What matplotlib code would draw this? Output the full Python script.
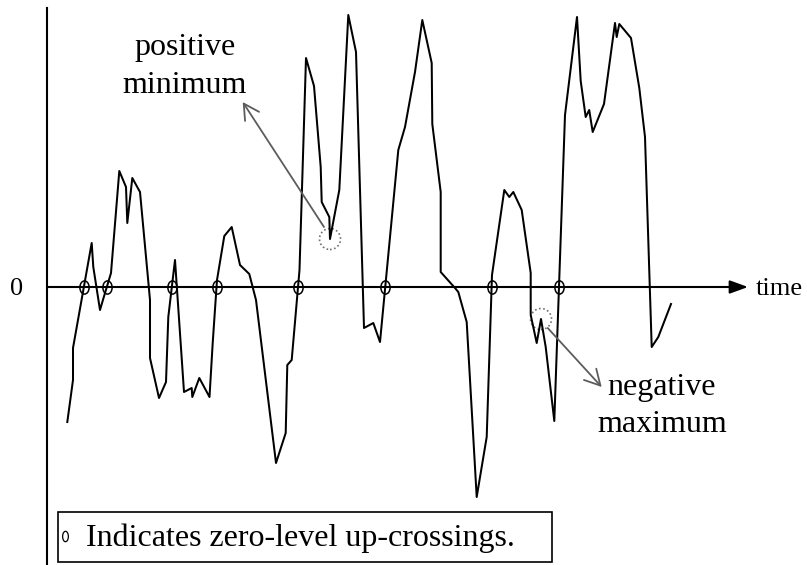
import numpy as np
import matplotlib
matplotlib.use("Agg")
import matplotlib.pyplot as plt
from matplotlib.markers import MarkerStyle
from matplotlib.patches import Ellipse, Rectangle
from matplotlib.transforms import Affine2D

# Sampled record: time and signal level (zero level = 0)
time = [2.03, 2.6, 2.6, 4.47, 4.63, 5.3, 5.8, 6.4, 7.23, 7.9,
        8.03, 8.53, 9.3, 10.3, 10.3, 11.2, 11.9, 12.13, 12.8, 13.7,
        14.47, 14.53, 15.23, 16.25, 16.57, 17.0, 17.73, 18.47, 19.3, 20.23,
        20.9, 22.9, 23.87, 24.03, 24.47, 25.25, 25.9, 26.7, 27.37, 27.47,
        28.23, 28.3, 29.23, 30.13, 30.9, 31.7, 32.63, 33.3, 35.13, 35.8,
        36.8, 37.53, 38.47, 38.53, 39.37, 39.37, 40.8, 41.13, 41.97, 42.97,
        43.97, 44.5, 45.73, 46.23, 46.63, 47.47, 48.37, 48.37, 48.97, 49.4,
        49.87, 50.73, 51.8, 53.0, 53.37, 53.87, 54.22, 54.57, 55.7, 56.8,
        56.97, 57.23, 58.4, 59.23, 59.8, 60.47, 61.13, 62.4]
level = [-1.35, -0.93, -0.61, 0.44, 0.20, -0.23, -0.06, 0.14, 1.16, 1.00,
         0.64, 1.09, 0.95, -0.13, -0.71, -1.11, -0.95, -0.30, 0.27, -1.05,
         -1.01, -1.10, -0.91, -1.10, -0.56, 0.07, 0.51, 0.60, 0.22, 0.13,
         -0.13, -1.76, -1.46, -0.78, -0.73, 0.17, 2.29, 2.01, 1.20, 0.85,
         0.70, 0.48, 0.97, 2.72, 2.35, -0.41, -0.36, -0.55, 1.37, 1.60,
         2.15, 2.67, 2.24, 1.63, 0.95, 0.15, -0.01, -0.05, -0.35, -2.10,
         -1.50, 0.12, 0.97, 0.90, 0.95, 0.77, 0.14, -0.28, -0.56, -0.32,
         -0.60, -1.34, 1.72, 2.70, 2.06, 1.70, 1.77, 1.55, 1.83, 2.64,
         2.50, 2.63, 2.49, 1.99, 1.50, -0.60, -0.50, -0.17]

# indices of the highlighted local extrema
pos_min_idx = 41
neg_max_idx = 69

SERIF = "Liberation Serif"


def zero_upcrossings(t, y):
    """Linear interpolation of the times where the signal goes up through zero."""
    t = np.asarray(t)
    y = np.asarray(y)
    idx = np.where((y[:-1] < 0) & (y[1:] >= 0))[0]
    return t[idx] - y[idx] * (t[idx + 1] - t[idx]) / (y[idx + 1] - y[idx])


fig = plt.figure(figsize=(8.07, 5.65), dpi=100)
ax = fig.add_axes([0, 0, 1, 1])
ax.set_xlim(-4.7, 76.0)
ax.set_ylim(-2.78, 2.87)
ax.axis("off")

# axes: vertical level axis and time axis with arrow
ax.plot([0, 0], [-2.78, 2.79], color="black", lw=1.5)
ax.annotate("", xy=(70.1, 0), xytext=(0, 0),
            arrowprops=dict(arrowstyle="-|>,head_length=1.1,head_width=0.4",
                            mutation_scale=10, color="black", lw=1.5,
                            shrinkA=0, shrinkB=0))
ax.text(-3.07, -0.08, "0", family=SERIF, fontsize=19, ha="center", va="baseline")
ax.text(70.9, -0.08, "time", family=SERIF, fontsize=19, ha="left", va="baseline")

# signal
ax.plot(time, level, color="black", lw=1.45)

# zero-level up-crossings
ellipse_marker = MarkerStyle("o", fillstyle="none",
                             transform=Affine2D().scale(0.7, 1.0))
tc = zero_upcrossings(time, level)
ax.plot(tc, np.zeros_like(tc), linestyle="none", marker=ellipse_marker,
        markersize=9.5, markeredgecolor="black", markeredgewidth=1.1)

# dotted rings around the local extrema
for i in (pos_min_idx, neg_max_idx):
    ax.add_patch(Ellipse((time[i], level[i]), 2.1, 0.21, fill=False,
                         edgecolor="#707070", lw=1.2, linestyle=(0, (1, 1.5))))

gray_arrow = dict(arrowstyle="->,head_length=1.1,head_width=0.6",
                  mutation_scale=10, color="#5c5c5c", lw=1.3,
                  shrinkA=0, shrinkB=0)
ax.annotate("", xy=(19.57, 1.85), xytext=(27.7, 0.60), arrowprops=gray_arrow)
ax.annotate("", xy=(55.47, -1.0), xytext=(50.07, -0.41), arrowprops=gray_arrow)

ax.text(13.85, 2.32, "positive", family=SERIF, fontsize=23, ha="center", va="baseline")
ax.text(13.77, 1.94, "minimum", family=SERIF, fontsize=23, ha="center", va="baseline")
ax.text(61.45, -1.08, "negative", family=SERIF, fontsize=23, ha="center", va="baseline")
ax.text(61.5, -1.45, "maximum", family=SERIF, fontsize=23, ha="center", va="baseline")

# legend box
ax.add_patch(Rectangle((1.1, -2.747), 49.37, 0.5, fill=False,
                       edgecolor="black", lw=1.2))
ax.plot([1.77], [-2.49], linestyle="none",
        marker=MarkerStyle("o", fillstyle="none", transform=Affine2D().scale(0.55, 1.0)),
        markersize=7.5, markeredgecolor="black", markeredgewidth=0.9)
ax.text(3.9, -2.59, "Indicates zero-level up-crossings.", family=SERIF,
        fontsize=23, ha="left", va="baseline")

fig.savefig("out.png", dpi=100)
